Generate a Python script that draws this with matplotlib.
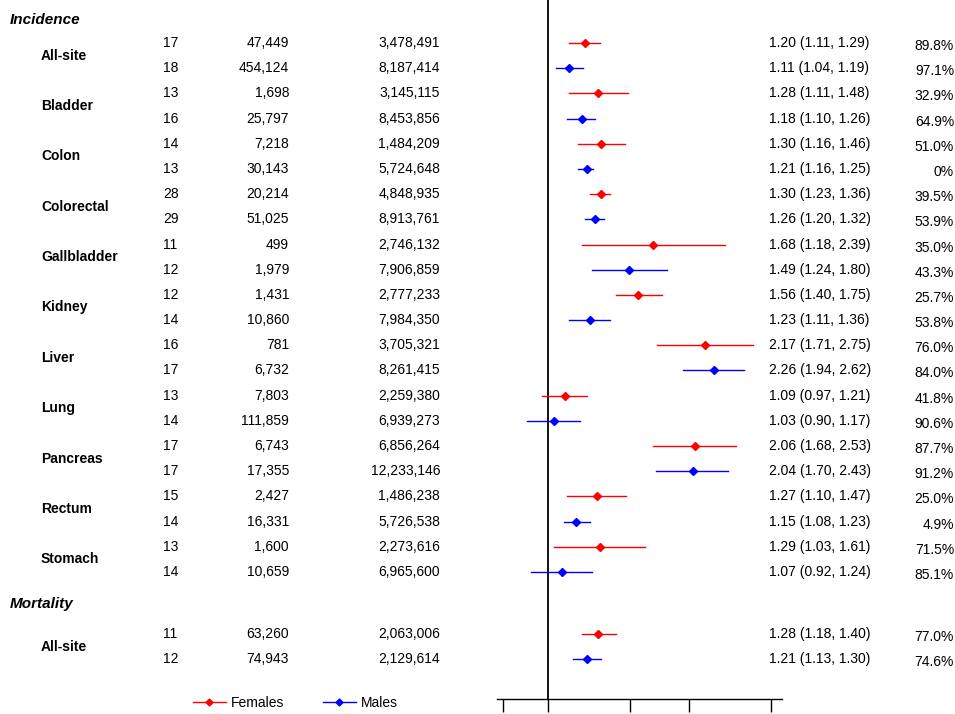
import matplotlib
matplotlib.use("Agg")
import matplotlib.pyplot as plt
import matplotlib.transforms as mtransforms
import numpy as np

plt.rcParams["font.family"] = ["Liberation Sans", "DejaVu Sans"]

# ---- data -------------------------------------------------------------
sites_inc = ["All-site", "Bladder", "Colon", "Colorectal", "Gallbladder",
             "Kidney", "Liver", "Lung", "Pancreas", "Rectum", "Stomach"]
sites_mort = ["All-site"]

# rows alternate Females / Males for each site
n_studies = [17, 18, 13, 16, 14, 13, 28, 29, 11, 12, 12, 14, 16, 17, 13, 14,
             17, 17, 15, 14, 13, 14, 11, 12]
cases = ["47,449", "454,124", "1,698", "25,797", "7,218", "30,143", "20,214",
         "51,025", "499", "1,979", "1,431", "10,860", "781", "6,732", "7,803",
         "111,859", "6,743", "17,355", "2,427", "16,331", "1,600", "10,659",
         "63,260", "74,943"]
population = ["3,478,491", "8,187,414", "3,145,115", "8,453,856", "1,484,209",
              "5,724,648", "4,848,935", "8,913,761", "2,746,132", "7,906,859",
              "2,777,233", "7,984,350", "3,705,321", "8,261,415", "2,259,380",
              "6,939,273", "6,856,264", "12,233,146", "1,486,238", "5,726,538",
              "2,273,616", "6,965,600", "2,063,006", "2,129,614"]
rr = [1.20, 1.11, 1.28, 1.18, 1.30, 1.21, 1.30, 1.26, 1.68, 1.49, 1.56, 1.23,
      2.17, 2.26, 1.09, 1.03, 2.06, 2.04, 1.27, 1.15, 1.29, 1.07, 1.28, 1.21]
ci_low = [1.11, 1.04, 1.11, 1.10, 1.16, 1.16, 1.23, 1.20, 1.18, 1.24, 1.40,
          1.11, 1.71, 1.94, 0.97, 0.90, 1.68, 1.70, 1.10, 1.08, 1.03, 0.92,
          1.18, 1.13]
ci_high = [1.29, 1.19, 1.48, 1.26, 1.46, 1.25, 1.36, 1.32, 2.39, 1.80, 1.75,
           1.36, 2.75, 2.62, 1.21, 1.17, 2.53, 2.43, 1.47, 1.23, 1.61, 1.24,
           1.40, 1.30]
i2 = ["89.8%", "97.1%", "32.9%", "64.9%", "51.0%", "0%", "39.5%", "53.9%",
      "35.0%", "43.3%", "25.7%", "53.8%", "76.0%", "84.0%", "41.8%", "90.6%",
      "87.7%", "91.2%", "25.0%", "4.9%", "71.5%", "85.1%", "77.0%", "74.6%"]
sex = ["Females", "Males"]
colors = {"Females": "#ff0000", "Males": "#0000ff"}
x_ticks = [0.8, 1, 1.5, 2, 3]

# ---- layout -----------------------------------------------------------
W, H = 955, 714
fig = plt.figure(figsize=(W / 100, H / 100), dpi=100)

row_px = 25.19
first_px = 43
n_inc = 2 * len(sites_inc)
pos = list(range(n_inc))
mort_start = (634 - first_px) / row_px
pos += [mort_start + k for k in range(2 * len(sites_mort))]
pos = np.array(pos)

ax_top, ax_bot = 0, 699
ax_left, ax_right = 497, 782
ax = fig.add_axes([ax_left / W, (H - ax_bot) / H,
                   (ax_right - ax_left) / W, (ax_bot - ax_top) / H])
ax.set_xscale("log")
x0 = np.exp((ax_left - 548) / 203.0)
x1 = np.exp((ax_right - 548) / 203.0)
ax.set_xlim(x0, x1)
ax.set_ylim((ax_bot - first_px) / row_px, (ax_top - first_px) / row_px)

for s in ["top", "right", "left"]:
    ax.spines[s].set_visible(False)
ax.spines["bottom"].set_linewidth(1.0)
ax.set_yticks([])
ax.set_xticks(x_ticks)
ax.set_xticklabels([])
ax.xaxis.set_minor_locator(matplotlib.ticker.NullLocator())
ax.tick_params(axis="x", direction="out", length=9, width=1.0)
ax.axvline(1.0, color="black", lw=1.3)

for i in range(len(rr)):
    c = colors[sex[i % 2]]
    ax.plot([ci_low[i], ci_high[i]], [pos[i], pos[i]], color=c, lw=1.0)
    ax.plot(rr[i], pos[i], marker="D", ms=3.8, color=c, mec=c)

# ---- text columns ------------------------------------------------------
trans = mtransforms.blended_transform_factory(fig.transFigure, ax.transData)
fs = 10


def fx(px):
    return px / W


for i in range(len(rr)):
    y = pos[i]
    ax.text(fx(163), y, str(n_studies[i]), transform=trans, ha="left",
            va="center", fontsize=fs)
    ax.text(fx(289), y, cases[i], transform=trans, ha="right",
            va="center", fontsize=fs)
    ax.text(fx(440), y, population[i], transform=trans, ha="right",
            va="center", fontsize=fs)
    ax.text(fx(769), y, f"{rr[i]:.2f} ({ci_low[i]:.2f}, {ci_high[i]:.2f})",
            transform=trans, ha="left", va="center", fontsize=fs)
    ax.text(fx(954), y + 0.12, i2[i], transform=trans, ha="right",
            va="center", fontsize=fs)

for k, name in enumerate(sites_inc):
    ax.text(fx(41), 2 * k + 0.5, name, transform=trans, ha="left",
            va="center", fontsize=fs, fontweight="bold")
for k, name in enumerate(sites_mort):
    ax.text(fx(41), mort_start + 2 * k + 0.5, name, transform=trans,
            ha="left", va="center", fontsize=fs, fontweight="bold")

ax.text(fx(10), (20 - first_px) / row_px, "Incidence", transform=trans,
        ha="left", va="center", fontsize=fs + 1, fontweight="bold",
        fontstyle="italic")
ax.text(fx(10), (604 - first_px) / row_px, "Mortality", transform=trans,
        ha="left", va="center", fontsize=fs + 1, fontweight="bold",
        fontstyle="italic")

# ---- legend ------------------------------------------------------------
handles = [matplotlib.lines.Line2D([], [], color=colors[s], lw=1.0,
                                   marker="D", ms=3.5) for s in sex]
fig.legend(handles, sex, loc="center left",
           bbox_to_anchor=(fx(180), (H - 703) / H), ncol=2, frameon=False,
           fontsize=fs, handlelength=2.4, handletextpad=0.38,
           columnspacing=2.75)

fig.savefig("out.png", dpi=100)
